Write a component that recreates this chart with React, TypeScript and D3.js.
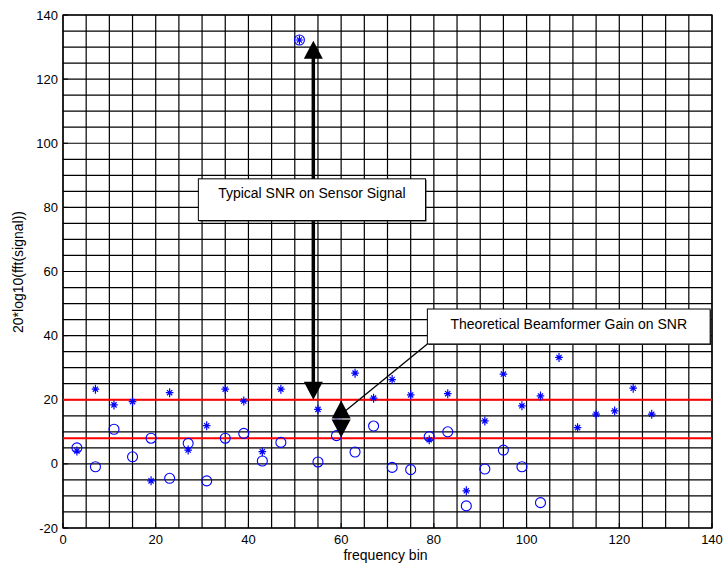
import React, { useRef, useEffect } from 'react';
import * as d3 from 'd3';

// frequency bins that carry a marker
const starBins = [3, 7, 11, 15, 19, 23, 27, 31, 35, 39, 43, 47, 51, 55, 59, 63, 67, 71, 75, 79, 83, 87, 91, 95, 99, 103, 107, 111, 115, 119, 123, 127];
const starValues = [4.0, 23.3, 18.4, 19.4, -5.3, 22.2, 4.3, 11.9, 23.3, 19.6, 3.8, 23.3, 132.2, 17.0, 13.7, 28.3, 20.5, 26.3, 21.5, 7.5, 21.9, -8.4, 13.4, 28.0, 18.1, 21.2, 33.2, 11.3, 15.5, 16.5, 23.6, 15.5];

const circleBins = [3, 7, 11, 15, 19, 23, 27, 31, 35, 39, 43, 47, 51, 55, 59, 63, 67, 71, 75, 79, 83, 87, 91, 95, 99, 103];
const circleValues = [5.0, -0.9, 10.8, 2.2, 8.0, -4.5, 6.4, -5.3, 8.0, 9.5, 0.9, 6.7, 132.2, 0.6, 8.8, 3.7, 11.8, -1.1, -1.8, 8.5, 10.0, -13.1, -1.6, 4.3, -0.9, -12.1];

const redLevels = [20, 8];

const xTicks = [0, 20, 40, 60, 80, 100, 120, 140];
const yTicks = [-20, 0, 20, 40, 60, 80, 100, 120, 140];

const App = () => {

    const ref = useRef(null);

    useEffect(() => {

        var W = 727, H = 569;
        var left = 63, right = 712, top = 15, bottom = 528;

        var svg = d3.select(ref.current);
        svg.selectAll('*').remove();

        var x = d3.scaleLinear().domain([0, 140]).range([left, right]);
        var y = d3.scaleLinear().domain([-20, 140]).range([bottom, top]);

        svg.append('rect').attr('width', W).attr('height', H).attr('fill', 'white');

        // grid every 5 units
        var g = svg.append('g').attr('stroke', '#000').attr('stroke-width', 1.2);
        d3.range(0, 141, 5).forEach(function(v) {
            g.append('line').attr('x1', x(v)).attr('x2', x(v)).attr('y1', top).attr('y2', bottom);
        });
        d3.range(-20, 141, 5).forEach(function(v) {
            g.append('line').attr('x1', left).attr('x2', right).attr('y1', y(v)).attr('y2', y(v));
        });

        svg.append('rect')
            .attr('x', left).attr('y', top)
            .attr('width', right - left).attr('height', bottom - top)
            .attr('fill', 'none').attr('stroke', '#000').attr('stroke-width', 1.3);

        // ticks (inside)
        xTicks.forEach(function(v) {
            svg.append('line').attr('x1', x(v)).attr('x2', x(v)).attr('y1', bottom).attr('y2', bottom - 5).attr('stroke', '#000');
        });
        yTicks.forEach(function(v) {
            svg.append('line').attr('x1', left).attr('x2', left + 5).attr('y1', y(v)).attr('y2', y(v)).attr('stroke', '#000');
        });

        var font = "'Liberation Sans', Arial, sans-serif";

        svg.append('g').selectAll('text').data(xTicks).enter().append('text')
            .attr('x', function(d) { return x(d); })
            .attr('y', bottom + 15.5)
            .attr('text-anchor', 'middle')
            .attr('font-family', font).attr('font-size', 13)
            .text(function(d) { return d; });

        svg.append('g').selectAll('text').data(yTicks).enter().append('text')
            .attr('x', left - 5)
            .attr('y', function(d) { return y(d) + 4.5; })
            .attr('text-anchor', 'end')
            .attr('font-family', font).attr('font-size', 13)
            .text(function(d) { return d; });

        svg.append('text')
            .attr('x', (left + right) / 2 - 2).attr('y', 560)
            .attr('text-anchor', 'middle')
            .attr('font-family', font).attr('font-size', 14)
            .text('frequency bin');

        svg.append('text')
            .attr('transform', 'translate(23,272) rotate(-90)')
            .attr('text-anchor', 'middle')
            .attr('font-family', font).attr('font-size', 14)
            .text('20*log10(fft(signal))');

        // red reference levels
        redLevels.forEach(function(v) {
            svg.append('line').attr('x1', left).attr('x2', right).attr('y1', y(v)).attr('y2', y(v))
                .attr('stroke', '#ff0000').attr('stroke-width', 2);
        });

        // circles
        svg.append('g').selectAll('circle').data(circleBins).enter().append('circle')
            .attr('cx', function(d) { return x(d); })
            .attr('cy', function(d, i) { return y(circleValues[i]); })
            .attr('r', 5)
            .attr('fill', 'none').attr('stroke', '#0000ff').attr('stroke-width', 1.1);

        // stars
        var stars = svg.append('g').attr('stroke', '#0000ff').attr('stroke-width', 1.2);
        starBins.forEach(function(b, i) {
            var cx = x(b), cy = y(starValues[i]);
            stars.append('path').attr('d',
                'M' + cx + ',' + (cy - 4.5) + 'L' + cx + ',' + (cy + 4.5) +
                'M' + (cx - 3.8) + ',' + cy + 'L' + (cx + 3.8) + ',' + cy +
                'M' + (cx - 2.6) + ',' + (cy - 2.6) + 'L' + (cx + 2.6) + ',' + (cy + 2.6) +
                'M' + (cx - 2.6) + ',' + (cy + 2.6) + 'L' + (cx + 2.6) + ',' + (cy - 2.6));
        });

        // arrows
        function head(px, py, dir) {
            // dir -1 points up, 1 points down
            var hw = 9.5, hh = 18;
            return 'M' + px + ',' + py + 'L' + (px - hw) + ',' + (py - dir * hh) + 'L' + (px + hw) + ',' + (py - dir * hh) + 'Z';
        }

        // typical SNR arrow
        var a1x = x(54), a1top = y(132), a1bot = y(20);
        svg.append('line').attr('x1', a1x).attr('x2', a1x).attr('y1', a1top + 16).attr('y2', a1bot - 16)
            .attr('stroke', '#000').attr('stroke-width', 3.5);
        svg.append('path').attr('d', head(a1x, a1top, -1)).attr('fill', '#000');
        svg.append('path').attr('d', head(a1x, a1bot, 1)).attr('fill', '#000');

        // beamformer gain arrow
        var a2x = x(60), a2top = y(19.8), a2bot = y(8.2);
        svg.append('path').attr('d', head(a2x, a2top, -1)).attr('fill', '#000');
        svg.append('path').attr('d', head(a2x, a2bot, 1)).attr('fill', '#000');
        svg.append('line').attr('x1', a2x - 9).attr('x2', a2x + 9).attr('y1', y(14)).attr('y2', y(14))
            .attr('stroke', '#999').attr('stroke-width', 1.2);

        // connector from label to gain arrow
        svg.append('line')
            .attr('x1', x(78.6)).attr('y1', y(37.4))
            .attr('x2', x(60.3)).attr('y2', y(15.8))
            .attr('stroke', '#000').attr('stroke-width', 1.3);

        function box(x0, x1, y0, y1, label, baseOff) {
            svg.append('rect')
                .attr('x', x(x0) + 1).attr('y', y(y0) + 1)
                .attr('width', x(x1) - x(x0)).attr('height', y(y1) - y(y0))
                .attr('fill', '#333');
            svg.append('rect')
                .attr('x', x(x0)).attr('y', y(y0))
                .attr('width', x(x1) - x(x0)).attr('height', y(y1) - y(y0))
                .attr('fill', 'white').attr('stroke', '#000').attr('stroke-width', 1);
            svg.append('text')
                .attr('x', (x(x0) + x(x1)) / 2).attr('y', y(y0) + baseOff)
                .attr('text-anchor', 'middle')
                .attr('font-family', font).attr('font-size', 14)
                .text(label);
        }

        box(29.2, 78.2, 88.9, 75.9, 'Typical SNR on Sensor Signal', 19.5);
        box(78.6, 139.6, 48.3, 37.4, 'Theoretical Beamformer Gain on SNR', 19.5);

    }, []);

    return (
        <svg ref={ref} width={727} height={569} style={{ position: 'absolute', left: 0, top: 0 }} />
    );
}

export default App
